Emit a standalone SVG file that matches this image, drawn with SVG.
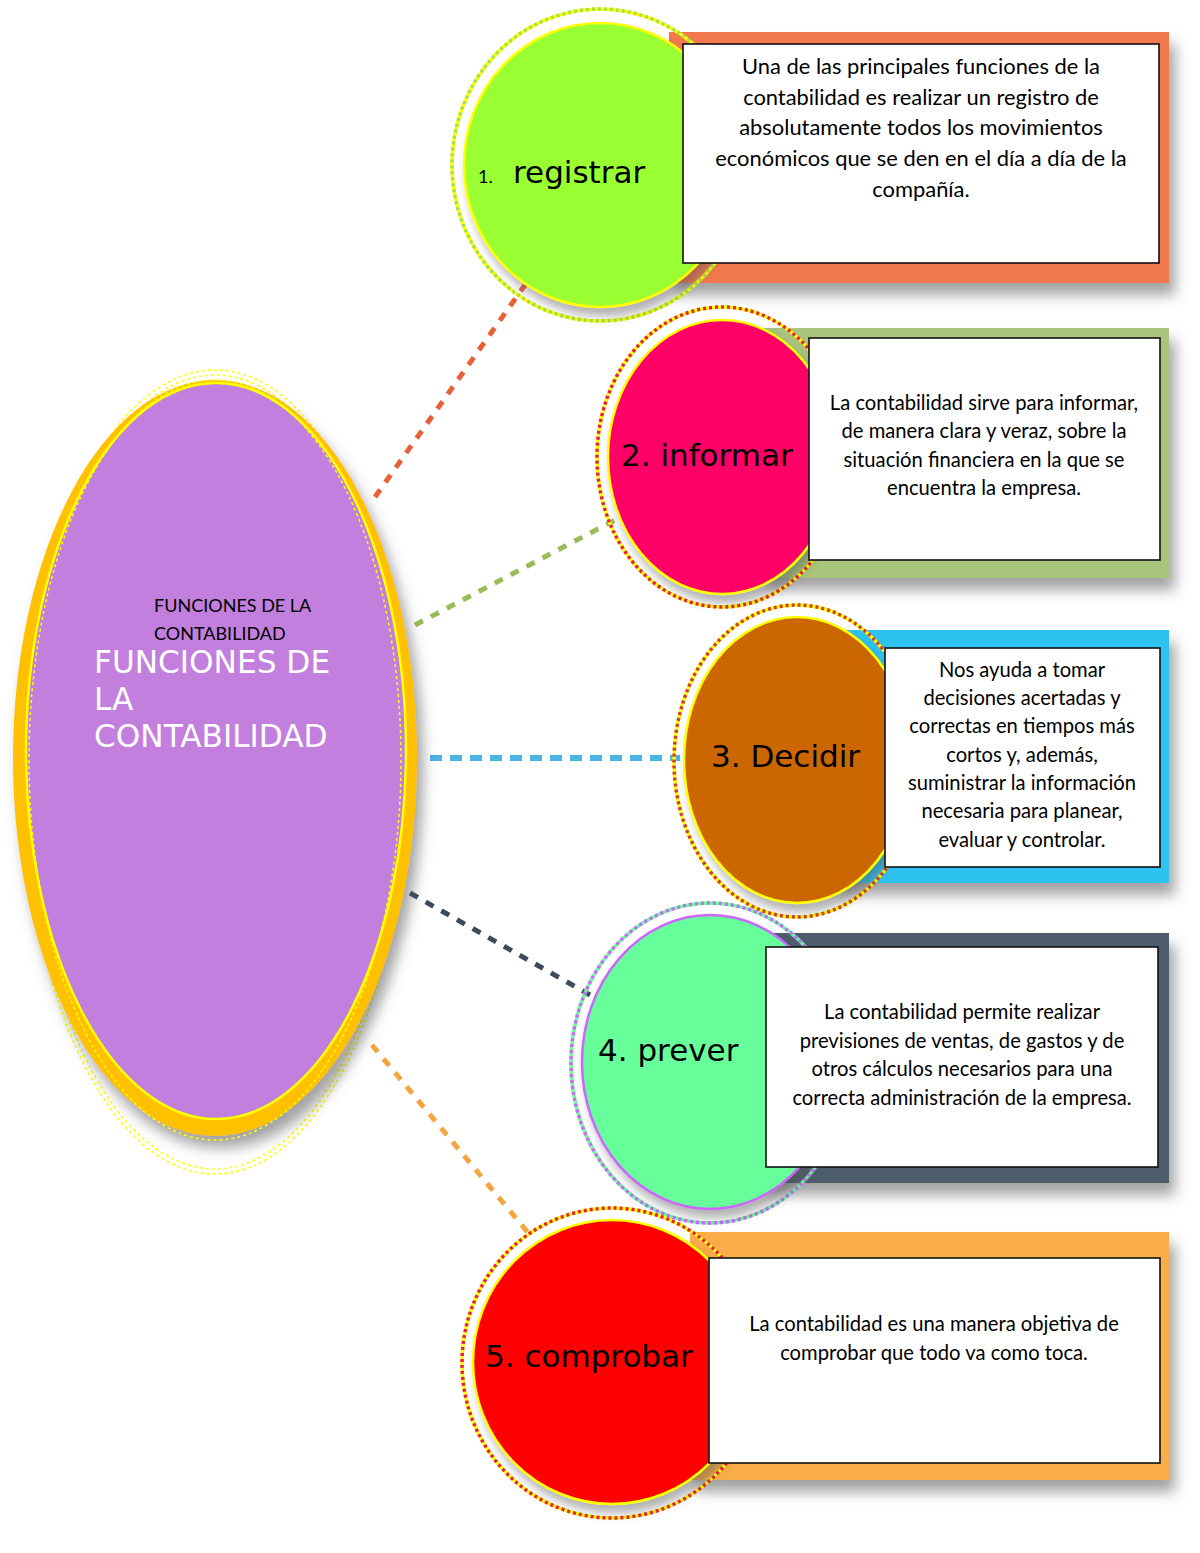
<svg xmlns="http://www.w3.org/2000/svg" width="1200" height="1553" viewBox="0 0 1200 1553">
<defs>
<filter id="sh" x="-10%" y="-10%" width="130%" height="140%">
<feDropShadow dx="6" dy="12" stdDeviation="7" flood-color="#555" flood-opacity="0.55"/>
</filter>
<filter id="shs" x="-10%" y="-10%" width="130%" height="130%">
<feDropShadow dx="4" dy="8" stdDeviation="5" flood-color="#555" flood-opacity="0.45"/>
</filter>
</defs>
<style>
.box{fill:#fff;stroke:#111;stroke-width:1.6}
.bt{font-family:Lato,"Open Sans",sans-serif;font-size:20.2px;fill:#000;text-anchor:middle}
.bt1{font-size:21.9px}
.lbl{font-family:"DejaVu Sans",sans-serif;font-size:31px;fill:#000}
.con{fill:none;stroke-width:5;stroke-dasharray:9 9}
.ring{fill:none;stroke-width:3.5}
.dash{fill:none;stroke-width:3.5;stroke-dasharray:3 3}
</style>

<g id="connectors">
<line class="con" x1="375" y1="497" x2="525" y2="285" stroke="#E8603A"/>
<line class="con" x1="415" y1="625" x2="615" y2="520" stroke="#9BBB59"/>
<line class="con" x1="430" y1="758" x2="680" y2="758" stroke="#4BB4E6" style="stroke-width:6;stroke-dasharray:12 8"/>
<line class="con" x1="410" y1="893" x2="590" y2="995" stroke="#3C4A5A"/>
<line class="con" x1="372" y1="1045" x2="530" y2="1235" stroke="#F5A540"/>
</g>

<g id="center">
<ellipse cx="215" cy="772" rx="191" ry="402" fill="none" stroke="#FFFF00" stroke-width="1.6" stroke-dasharray="3 3"/>
<ellipse cx="215" cy="772" rx="187" ry="397" fill="none" stroke="#FFFF00" stroke-width="1.6" stroke-dasharray="3 3"/>
<ellipse cx="215" cy="758" rx="202" ry="378" fill="#FFC000" filter="url(#sh)"/>
<ellipse cx="216" cy="751" rx="190" ry="368" fill="#C27FDE" stroke="#FFFF00" stroke-width="2.5"/>
<ellipse cx="215" cy="760" rx="186" ry="380" fill="none" stroke="#FFFF00" stroke-width="1.5" stroke-dasharray="3 3"/>
<text x="154" y="612" font-family="Lato,sans-serif" font-size="18" fill="#000">FUNCIONES DE LA</text>
<text x="154" y="640" font-family="Lato,sans-serif" font-size="18" fill="#000">CONTABILIDAD</text>
<text font-family="DejaVu Sans,sans-serif" font-size="31.2" fill="#fff"><tspan x="94" y="673">FUNCIONES DE</tspan><tspan x="94" y="710">LA</tspan><tspan x="94" y="747">CONTABILIDAD</tspan></text>
</g>

<g id="node1">
<rect x="669" y="32" width="500" height="251" fill="#F2784E" filter="url(#sh)"/>
<ellipse cx="600" cy="165" rx="148" ry="156" class="ring" stroke="#FFFF00"/>
<ellipse cx="600" cy="165" rx="148" ry="156" class="dash" stroke="#A6E04A"/>
<ellipse cx="600" cy="165" rx="136" ry="142" fill="#99FF33" stroke="#FFFF00" stroke-width="2.5" filter="url(#shs)"/>
<text x="478" y="183" font-family="Lato,sans-serif" font-size="18">1.</text>
<text x="513" y="183" class="lbl">registrar</text>
<rect x="683" y="44" width="476" height="219" class="box"/>
<text class="bt bt1"><tspan x="921" y="74">Una de las principales funciones de la</tspan><tspan x="921" y="105">contabilidad es realizar un registro de</tspan><tspan x="921" y="135">absolutamente todos los movimientos</tspan><tspan x="921" y="166">económicos que se den en el día a día de la</tspan><tspan x="921" y="197">compañía.</tspan></text>
</g>

<g id="node2">
<rect x="760" y="328" width="409" height="250" fill="#A9C47B" filter="url(#sh)"/>
<ellipse cx="722" cy="457" rx="125" ry="150" class="ring" stroke="#FFFF00"/>
<ellipse cx="722" cy="457" rx="125" ry="150" class="dash" stroke="#E8203A"/>
<ellipse cx="722" cy="457" rx="114" ry="137" fill="#FF0066" stroke="#FFFF00" stroke-width="2.5" filter="url(#shs)"/>
<text x="621" y="466" class="lbl">2. informar</text>
<rect x="809" y="338" width="351" height="222" class="box"/>
<text class="bt"><tspan x="984" y="410">La contabilidad sirve para informar,</tspan><tspan x="984" y="438">de manera clara y veraz, sobre la</tspan><tspan x="984" y="467">situación financiera en la que se</tspan><tspan x="984" y="495">encuentra la empresa.</tspan></text>
</g>

<g id="node3">
<rect x="830" y="630" width="339" height="253" fill="#2DC2F0" filter="url(#sh)"/>
<ellipse cx="797" cy="761" rx="123" ry="156" class="ring" stroke="#FFFF00"/>
<ellipse cx="797" cy="761" rx="123" ry="156" class="dash" stroke="#D0402A"/>
<ellipse cx="797" cy="760" rx="113" ry="143" fill="#CC6600" stroke="#FFFF00" stroke-width="2.5" filter="url(#shs)"/>
<text x="711" y="767" class="lbl">3. Decidir</text>
<rect x="885" y="648" width="275" height="219" class="box"/>
<text class="bt"><tspan x="1022" y="677">Nos ayuda a tomar</tspan><tspan x="1022" y="705">decisiones acertadas y</tspan><tspan x="1022" y="733">correctas en tiempos más</tspan><tspan x="1022" y="762">cortos y, además,</tspan><tspan x="1022" y="790">suministrar la información</tspan><tspan x="1022" y="818">necesaria para planear,</tspan><tspan x="1022" y="847">evaluar y controlar.</tspan></text>
</g>

<g id="node4">
<rect x="760" y="933" width="409" height="250" fill="#4E5D6C" filter="url(#sh)"/>
<ellipse cx="710" cy="1063" rx="139" ry="160" class="ring" stroke="#66FF99"/>
<ellipse cx="710" cy="1063" rx="139" ry="160" class="dash" stroke="#CC66FF"/>
<ellipse cx="710" cy="1062" rx="128" ry="147" fill="#66FF99" stroke="#CC66FF" stroke-width="2.5" filter="url(#shs)"/>
<text x="598" y="1061" class="lbl">4. prever</text>
<rect x="766" y="947" width="392" height="220" class="box"/>
<text class="bt"><tspan x="962" y="1019">La contabilidad permite realizar</tspan><tspan x="962" y="1048">previsiones de ventas, de gastos y de</tspan><tspan x="962" y="1076">otros cálculos necesarios para una</tspan><tspan x="962" y="1105">correcta administración de la empresa.</tspan></text>
</g>

<g id="node5">
<rect x="690" y="1232" width="479" height="248" fill="#F9AD4A" filter="url(#sh)"/>
<ellipse cx="612" cy="1363" rx="150" ry="155" class="ring" stroke="#FFFF00"/>
<ellipse cx="612" cy="1363" rx="150" ry="155" class="dash" stroke="#E8203A"/>
<ellipse cx="612" cy="1362" rx="139" ry="142" fill="#FF0000" stroke="#FFFF00" stroke-width="2.5" filter="url(#shs)"/>
<text x="485" y="1367" class="lbl">5. comprobar</text>
<rect x="709" y="1258" width="451" height="205" class="box"/>
<text class="bt"><tspan x="934" y="1331">La contabilidad es una manera objetiva de</tspan><tspan x="934" y="1360">comprobar que todo va como toca.</tspan></text>
</g>
</svg>
